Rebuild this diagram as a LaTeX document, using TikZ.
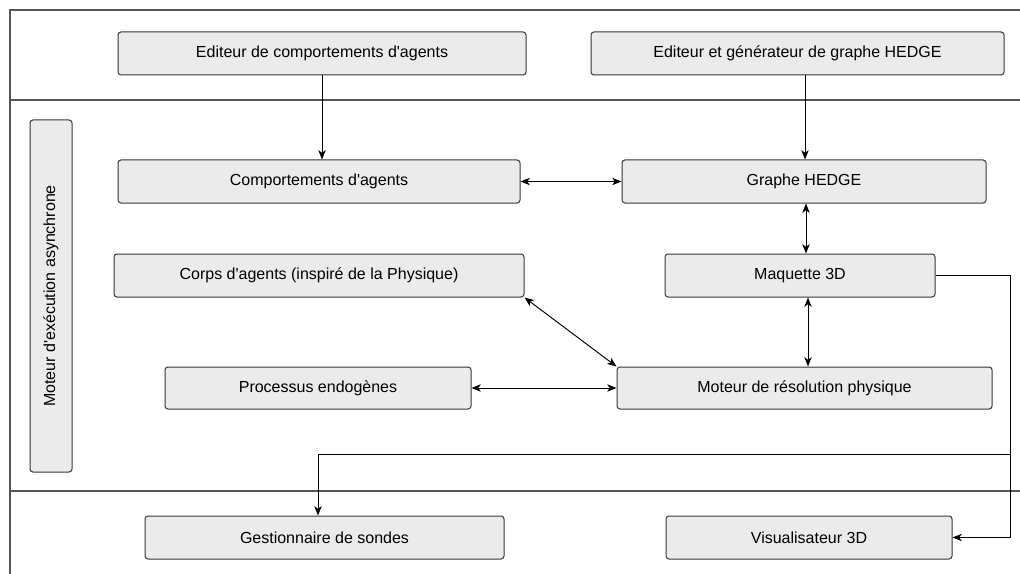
\documentclass[tikz,border=0pt]{standalone}
\usepackage{fontspec}
\setmainfont{Liberation Sans}[Ligatures=TeXOff]
\usetikzlibrary{arrows.meta,calc}
\definecolor{boxfill}{HTML}{EBEBEB}
\definecolor{boxline}{HTML}{363636}
\definecolor{frameline}{HTML}{555555}
\begin{document}
\begin{tikzpicture}[x=0.75pt,y=-0.75pt,
  box/.style={draw=boxline,fill=boxfill,rounded corners=2.2pt,line width=0.75pt,
     minimum height=32.25pt,inner sep=0pt,font=\fontsize{12}{14}\selectfont},
  frm/.style={draw=frameline,line width=0.8pt},
  conn/.style={draw=black,line width=0.7pt},
  tip/.style={-{Stealth[length=7pt,width=5.5pt,inset=2pt]}},
  dtip/.style={{Stealth[length=7pt,width=5.5pt,inset=2pt]}-{Stealth[length=7pt,width=5.5pt,inset=2pt]}}]
\useasboundingbox (0,0) rectangle (1020,574);
% frame
\draw[frm] (1020,10) -- (10,10) -- (10,574);
\draw[frm] (10,100) -- (1020,100);
\draw[frm] (10,491) -- (1020,491);
% nodes
\node[box,minimum width=306pt] (ed1) at (322,53.5) {Editeur de comportements d'agents};
\node[box,minimum width=309.75pt] (ed2) at (797.5,53.5) {Editeur et générateur de graphe HEDGE};
\node[box,minimum width=301.5pt] (comp) at (319,181.5) {Comportements d'agents};
\node[box,minimum width=273pt] (graphe) at (804,181.5) {Graphe HEDGE};
\node[box,minimum width=307.5pt] (corps) at (319,275.5) {Corps d'agents (inspiré de la Physique)};
\node[box,minimum width=202.5pt] (maq) at (800,275.5) {Maquette 3D};
\node[box,minimum width=229.5pt,minimum height=31.5pt] (proc) at (318,388) {Processus endogènes};
\node[box,minimum width=281.25pt,minimum height=31.5pt] (mot) at (804.5,388) {Moteur de résolution physique};
\node[box,minimum width=269.25pt] (gest) at (324.5,537.5) {Gestionnaire de sondes};
\node[box,minimum width=214.5pt] (vis) at (809,537.5) {Visualisateur 3D};
\node[box,rotate=90,minimum width=264pt,minimum height=31.5pt] (moteurasync) at (51,296) {Moteur d'exécution asynchrone};
% helper coordinates
\coordinate (xa) at (322,0);
\coordinate (xb) at (805,0);
\coordinate (xc) at (806,0);
\coordinate (xd) at (808,0);
\coordinate (cr) at (1010,275.5);
\coordinate (br) at (1010,454);
\coordinate (bl) at (318,454);
% connectors
\draw[conn,tip] (xa |- ed1.south) -- (xa |- comp.north);
\draw[conn,tip] (xb |- ed2.south) -- (xb |- graphe.north);
\draw[conn,dtip] (comp.east) -- (graphe.west);
\draw[conn,dtip] (xc |- graphe.south) -- (xc |- maq.north);
\draw[conn,dtip] (xd |- maq.south) -- (xd |- mot.north);
\draw[conn,dtip] (corps.south east) -- (mot.north west);
\draw[conn,dtip] (proc.east) -- (mot.west);
\draw[conn,tip] (maq.east) -- (cr) |- (vis.east);
\draw[conn,tip] (br) -- (bl) -- (bl |- gest.north);
\end{tikzpicture}
\end{document}
